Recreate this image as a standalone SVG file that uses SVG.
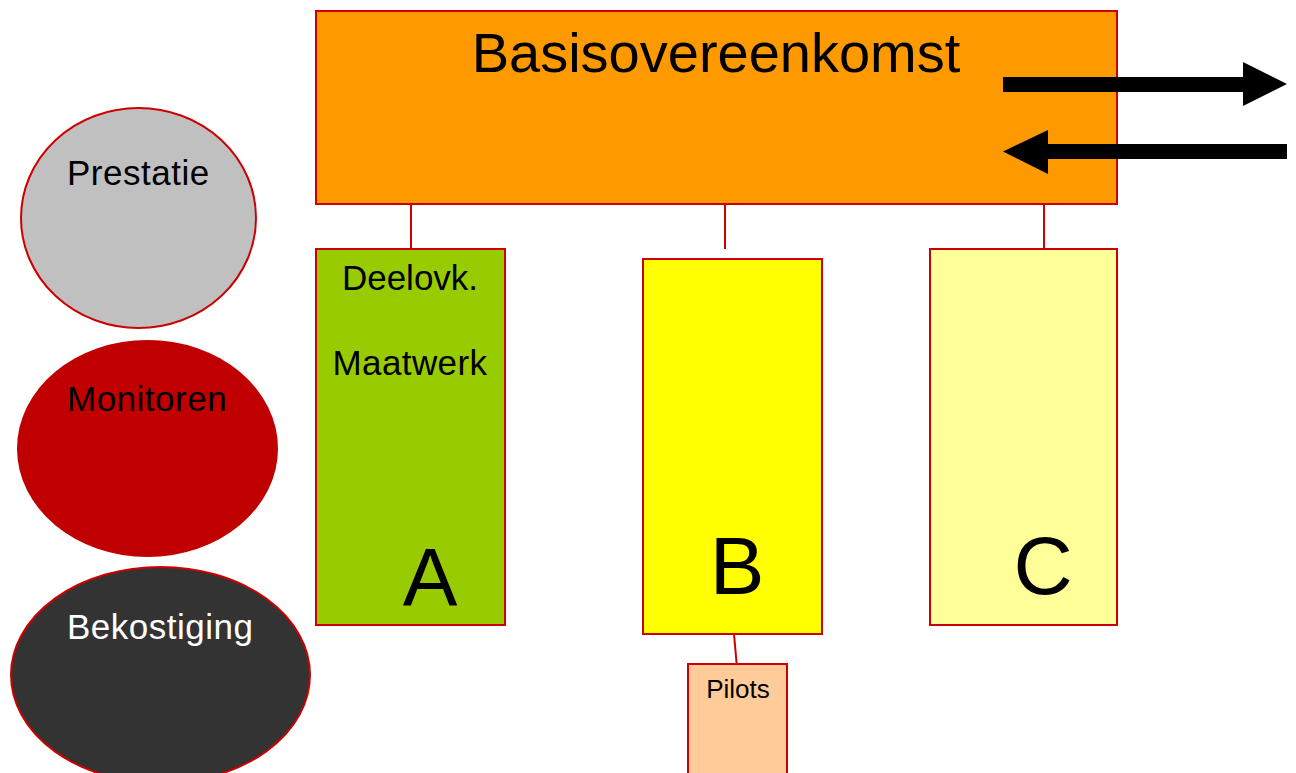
<svg xmlns="http://www.w3.org/2000/svg" width="1296" height="773" viewBox="0 0 1296 773">
<style>
text{font-family:"Liberation Sans",Arial,sans-serif;fill:#000}
.lbl{font-size:35px;letter-spacing:0.5px}
.box{stroke:#CC0000;stroke-width:2}
.con{stroke:#CC0000;stroke-width:2;fill:none}
.arrow{fill:#000}
</style>
<rect width="1296" height="773" fill="#fff"/>
<g id="connectors">
<line class="con" x1="411" y1="204" x2="411" y2="249"/>
<line class="con" x1="725" y1="204" x2="725" y2="249"/>
<line class="con" x1="1044" y1="204" x2="1044" y2="249"/>
<line class="con" x1="734" y1="634" x2="737" y2="668"/>
</g>
<g id="basis">
<rect class="box" x="316" y="11" width="801" height="193" fill="#FF9900"/>
<text x="716" y="72" font-size="56" text-anchor="middle">Basisovereenkomst</text>
</g>
<g id="arrows">
<polygon class="arrow" points="1003,77 1243,77 1243,62 1287,84 1243,106 1243,92 1003,92"/>
<polygon class="arrow" points="1287,144 1048,144 1048,130 1003,151.5 1048,174 1048,159 1287,159"/>
</g>
<g id="prestatie">
<ellipse class="box" cx="138.5" cy="218" rx="117.5" ry="110" fill="#C0C0C0"/>
<text class="lbl" x="67" y="185">Prestatie</text>
</g>
<g id="monitoren">
<ellipse cx="147.5" cy="448.5" rx="130.5" ry="108.5" fill="#C00000"/>
<text class="lbl" x="67" y="411">Monitoren</text>
</g>
<g id="bekostiging">
<ellipse class="box" cx="160.5" cy="675" rx="149.5" ry="108" fill="#333333"/>
<text class="lbl" x="67" y="639" style="fill:#fff">Bekostiging</text>
</g>
<g id="boxA">
<rect class="box" x="316" y="249" width="189" height="376" fill="#99CC00"/>
<text x="410" y="290" font-size="35" text-anchor="middle">Deelovk.</text>
<text x="410" y="375" font-size="35" letter-spacing="0.4" text-anchor="middle">Maatwerk</text>
<text x="430" y="605" font-size="82" text-anchor="middle">A</text>
</g>
<g id="boxB">
<rect class="box" x="643" y="259" width="179" height="375" fill="#FFFF00"/>
<text x="737" y="594" font-size="82" text-anchor="middle">B</text>
</g>
<g id="boxC">
<rect class="box" x="930" y="249" width="187" height="376" fill="#FFFF99"/>
<text x="1043" y="594" font-size="82" text-anchor="middle">C</text>
</g>
<g id="pilots">
<rect class="box" x="688" y="664" width="99" height="120" fill="#FFCC99"/>
<text x="738" y="698" font-size="26" text-anchor="middle">Pilots</text>
</g>
</svg>
